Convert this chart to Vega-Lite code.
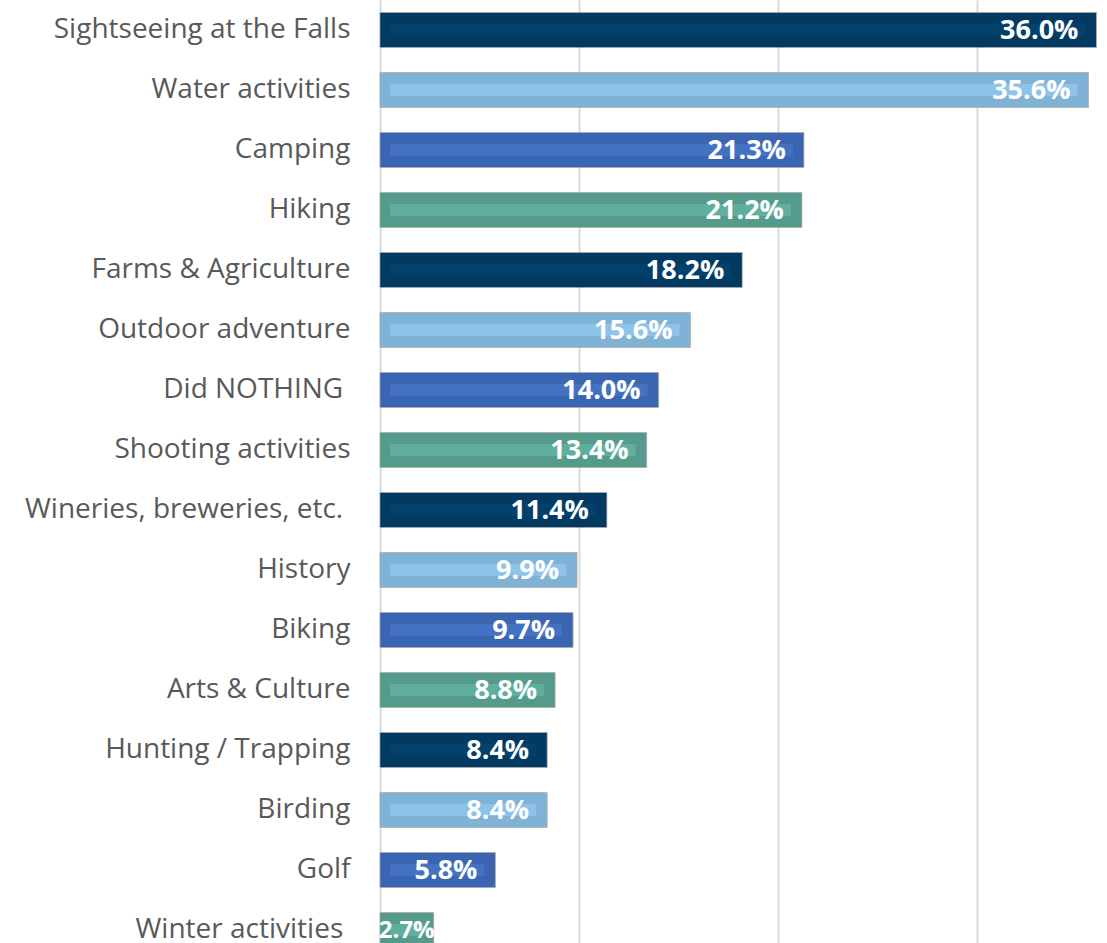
{
  "$schema": "https://vega.github.io/schema/vega-lite/v6.json",
  "autosize": {"type": "none"},
  "padding": {"left": 380, "top": 0, "right": 0, "bottom": 0},
  "width": 727,
  "height": 960,
  "background": "white",
  "config": {"view": {"stroke": null}},
  "data": {
    "values": [
      {"activity": "Sightseeing at the Falls", "pct": 0.360},
      {"activity": "Water activities", "pct": 0.356},
      {"activity": "Camping", "pct": 0.213},
      {"activity": "Hiking", "pct": 0.212},
      {"activity": "Farms & Agriculture", "pct": 0.182},
      {"activity": "Outdoor adventure", "pct": 0.156},
      {"activity": "Did NOTHING\u00a0\u200b", "pct": 0.140},
      {"activity": "Shooting activities", "pct": 0.134},
      {"activity": "Wineries, breweries, etc.\u00a0\u200b", "pct": 0.114},
      {"activity": "History", "pct": 0.099},
      {"activity": "Biking", "pct": 0.097},
      {"activity": "Arts & Culture", "pct": 0.088},
      {"activity": "Hunting / Trapping", "pct": 0.084},
      {"activity": "Birding", "pct": 0.084},
      {"activity": "Golf", "pct": 0.058},
      {"activity": "Winter activities\u00a0\u200b", "pct": 0.027}
    ]
  },
  "encoding": {
    "y": {
      "field": "activity",
      "type": "nominal",
      "sort": null,
      "scale": {"paddingInner": 0.4167, "paddingOuter": 0.2083},
      "axis": {
        "title": null,
        "ticks": false,
        "domain": false,
        "labelFont": "Open Sans",
        "labelFontSize": 28,
        "labelColor": "#595959",
        "labelPadding": 30,
        "labelLimit": 500
      }
    },
    "x": {
      "field": "pct",
      "type": "quantitative",
      "scale": {"domain": [0, 0.3653], "nice": false, "zero": true},
      "axis": {
        "title": null,
        "values": [0, 0.1, 0.2, 0.3],
        "labels": false,
        "ticks": false,
        "domain": false,
        "grid": true,
        "gridColor": "#d9d9d9",
        "gridWidth": 2
      }
    }
  },
  "resolve": {"scale": {"color": "independent"}},
  "layer": [
    {
      "mark": {"type": "bar", "stroke": "#a9a9a9", "strokeWidth": 1, "strokeOpacity": 0.7},
      "encoding": {
        "color": {
          "field": "activity",
          "type": "nominal",
          "legend": null,
          "scale": {
            "domain": ["Sightseeing at the Falls", "Water activities", "Camping", "Hiking", "Farms & Agriculture", "Outdoor adventure", "Did NOTHING\u00a0\u200b", "Shooting activities", "Wineries, breweries, etc.\u00a0\u200b", "History", "Biking", "Arts & Culture", "Hunting / Trapping", "Birding", "Golf", "Winter activities\u00a0\u200b"],
            "range": ["#023a62", "#80b2d6", "#3c65b1", "#549b8c"]
          }
        }
      }
    },
    {
      "mark": {"type": "bar", "height": 12, "xOffset": -11, "x2Offset": 10},
      "encoding": {
        "x2": {"datum": 0},
        "color": {
          "field": "activity",
          "type": "nominal",
          "legend": null,
          "scale": {
            "domain": ["Sightseeing at the Falls", "Water activities", "Camping", "Hiking", "Farms & Agriculture", "Outdoor adventure", "Did NOTHING\u00a0\u200b", "Shooting activities", "Wineries, breweries, etc.\u00a0\u200b", "History", "Biking", "Arts & Culture", "Hunting / Trapping", "Birding", "Golf", "Winter activities\u00a0\u200b"],
            "range": ["#03406b", "#8dc2e9", "#4372c3", "#5fae9e"]
          }
        }
      }
    },
    {
      "transform": [{"filter": "datum.pct >= 0.05"}],
      "mark": {"type": "text", "align": "right", "baseline": "middle", "dx": -18, "dy": 1, "font": "Open Sans", "fontWeight": "bold", "fontSize": 27},
      "encoding": {
        "text": {"field": "pct", "type": "quantitative", "format": ".1%"},
        "color": {"value": "white"}
      }
    },
    {
      "transform": [{"filter": "datum.pct < 0.05"}],
      "mark": {"type": "text", "align": "right", "baseline": "middle", "dx": 1, "dy": 1, "font": "Open Sans", "fontWeight": "bold", "fontSize": 24},
      "encoding": {
        "text": {"field": "pct", "type": "quantitative", "format": ".1%"},
        "color": {"value": "white"}
      }
    }
  ]
}
